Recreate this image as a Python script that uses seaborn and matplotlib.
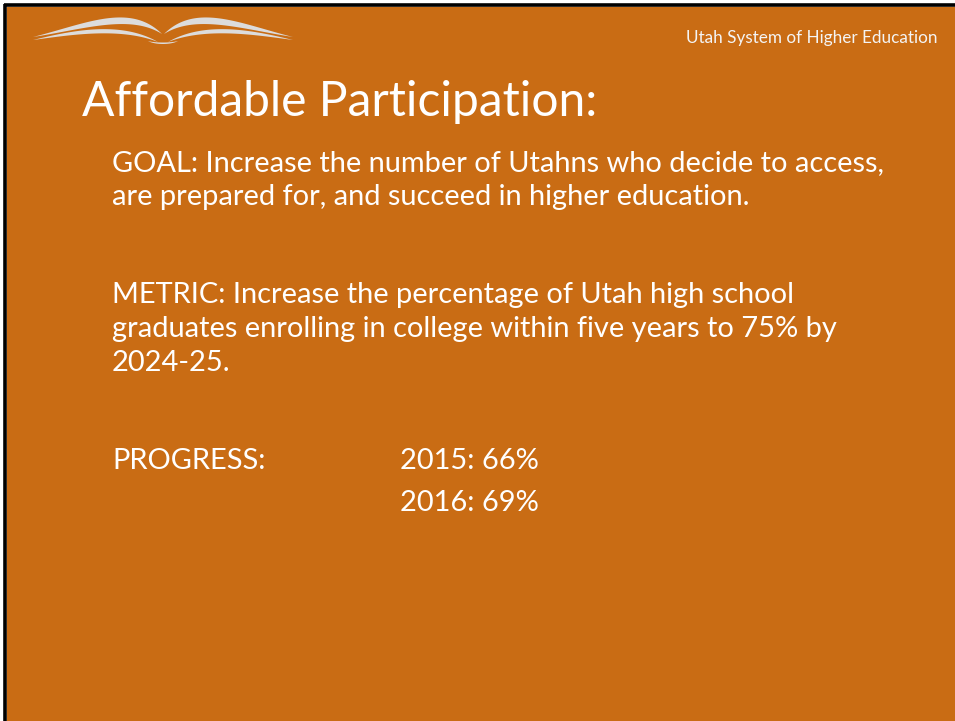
import numpy as np
import matplotlib
matplotlib.use("Agg")
import matplotlib.pyplot as plt
import seaborn as sns

# slide text
header = "Utah System of Higher Education"
title = "Affordable Participation:"
goal_lines = ["GOAL: Increase the number of Utahns who decide to access,",
              "are prepared for, and succeed in higher education."]
metric_lines = ["METRIC: Increase the percentage of Utah high school",
                "graduates enrolling in college within five years to 75% by",
                "2024-25."]
progress_label = "PROGRESS:"
progress_years = [2015, 2016]
progress_values = [66, 69]

BG = "#C96C14"
LOGO = "#DCDCDC"

sns.set_style("white")
plt.rcParams['font.family'] = ['Lato', 'DejaVu Sans']

fig = plt.figure(figsize=(9.55, 7.21), dpi=100)
fig.patch.set_facecolor("white")
ax = fig.add_axes([0, 0, 1, 1])
ax.set_xlim(0, 955)
ax.set_ylim(721, 0)
ax.axis("off")
ax.add_patch(plt.Rectangle((7, 7), 955, 721, color=BG, zorder=0))

# black frame on left and top
ax.plot([5, 5], [4, 721], color="black", lw=2.6, solid_capstyle="butt")
ax.plot([4, 955], [5, 5], color="black", lw=2.6, solid_capstyle="butt")


def bez(p0, p1, p2, p3, n=80):
    t = np.linspace(0, 1, n)[:, None]
    pts = ((1 - t) ** 3) * np.array(p0) + 3 * ((1 - t) ** 2) * t * np.array(p1) \
        + 3 * (1 - t) * t ** 2 * np.array(p2) + t ** 3 * np.array(p3)
    return pts


def crescent(p0, p3, c_top, c_bot, mirror=False):
    top = bez(p0, c_top[0], c_top[1], p3)
    bot = bez(p0, c_bot[0], c_bot[1], p3)
    poly = np.vstack([top, bot[::-1]])
    if mirror:
        poly[:, 0] = 326 - poly[:, 0]
    ax.fill(poly[:, 0], poly[:, 1], color=LOGO, lw=0, zorder=2)


# open book logo
for m in (False, True):
    crescent((33, 37), (162, 34), [(85, 24), (130, 2)], [(85, 29), (130, 14)], m)
    crescent((33, 40), (158, 42), [(70, 31), (120, 20)], [(70, 35), (120, 27)], m)
crescent((148, 41), (178, 41), [(155, 45), (171, 45)], [(155, 43), (171, 43)])

ax.text(937, 38, header, color="#F4F4F4", fontsize=12.3,
        ha="right", va="center")
ax.text(82, 102, title, color="white", fontsize=34.6,
        ha="left", va="center")

body_kw = dict(color="white", fontsize=20.9, ha="left", va="center")
for i, line in enumerate(goal_lines):
    ax.text(112, 163 + i * 34, line, **body_kw)
for i, line in enumerate(metric_lines):
    ax.text(112, 295 + i * 34, line, **body_kw)
ax.text(112, 461, progress_label, **body_kw)
for i, (yr, v) in enumerate(zip(progress_years, progress_values)):
    ax.text(400, 461 + i * 42, f"{yr}: {v}%", **body_kw)

fig.savefig("out.png", dpi=100, facecolor=fig.get_facecolor())
